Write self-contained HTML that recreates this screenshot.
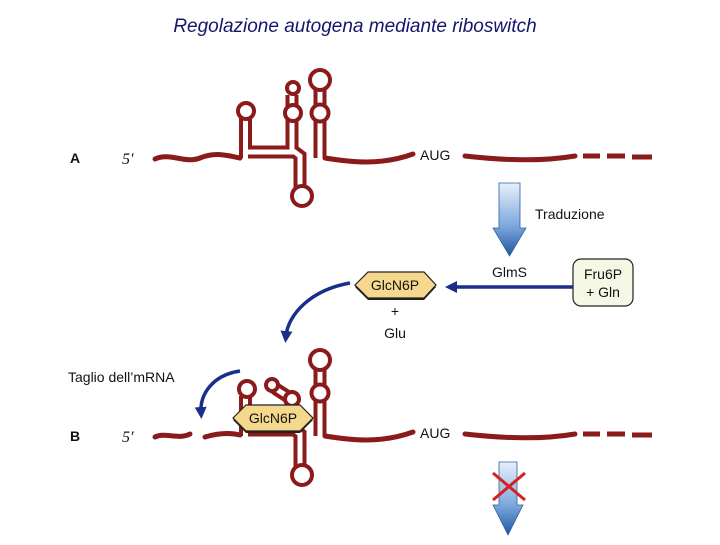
<!DOCTYPE html>
<html><head><meta charset="utf-8"><style>
body{margin:0;background:#fff;width:720px;height:540px;overflow:hidden}
text{font-family:"Liberation Sans",sans-serif}
</style></head><body>
<svg width="720" height="540" viewBox="0 0 720 540" xmlns="http://www.w3.org/2000/svg">
<defs>
<linearGradient id="bg" x1="0" y1="0" x2="0" y2="1"><stop offset="0" stop-color="#e8f0fb"/><stop offset="0.6" stop-color="#7aa6dc"/><stop offset="1" stop-color="#1f55a0"/></linearGradient>
<marker id="ah" markerWidth="12" markerHeight="12" refX="5" refY="6" orient="auto" markerUnits="userSpaceOnUse"><path d="M0,0 L12,6 L0,12 z" fill="#1a2f8a"/></marker>
</defs>
<text x="355" y="32" text-anchor="middle" font-style="italic" font-size="19" fill="#15156b" style="font-family:'Liberation Sans',sans-serif">Regolazione autogena mediante riboswitch</text>

<g fill="none" stroke="#8b1a1a" stroke-linecap="round">
<path d="M155,159 C170,152 185,164 200,158 S225,155 240,158" stroke-width="5"/>
<path d="M325,158 C350,162 380,166 413,154" stroke-width="5"/>
<path d="M465,156 C500,160 540,162 575,156" stroke-width="5"/>
<path d="M583,156 H600 M607,156 H625 M632,157 H652" stroke-width="5" stroke-linecap="butt"/>
<path d="M245.5,158 V118 M245.5,152 H292 V95 M292,150 L300,156 V190 M320,158 V88" stroke-width="13" stroke-linecap="butt"/>
<path d="M245.5,160 V118 M245.5,152 H292 V95 M292,150 L300,156 V190 M320,160 V88" stroke="#fff" stroke-width="5" stroke-linecap="butt"/>
<g stroke-width="4" fill="#fff">
<circle cx="246" cy="111" r="8"/><circle cx="293" cy="113" r="8"/><circle cx="293" cy="88" r="6"/>
<circle cx="320" cy="113" r="8.5"/><circle cx="320" cy="80" r="10"/><circle cx="302" cy="196" r="10"/>
</g>
<path d="M155,437 C165,432 178,440 190,434" stroke-width="5"/>
<path d="M205,437 C215,434 228,432 240,435" stroke-width="5"/>
<path d="M325,436 C350,440 380,444 413,432" stroke-width="5"/>
<path d="M465,434 C500,438 540,440 575,434" stroke-width="5"/>
<path d="M583,434 H600 M607,434 H625 M632,435 H652" stroke-width="5" stroke-linecap="butt"/>
<path d="M245.5,436 V396 M245.5,430 H292 V405 M292,428 L300,434 V468 M320,436 V368" stroke-width="13" stroke-linecap="butt"/>
<path d="M245.5,438 V396 M245.5,430 H292 V405 M292,428 L300,434 V468 M320,438 V368" stroke="#fff" stroke-width="5" stroke-linecap="butt"/>
<path d="M276,389 L290,398" stroke-width="13"/>
<path d="M276,389 L290,398" stroke="#fff" stroke-width="5"/>
<g stroke-width="4" fill="#fff">
<circle cx="247" cy="389" r="8"/><circle cx="272" cy="385" r="6"/><circle cx="292" cy="399" r="7"/>
<circle cx="320" cy="393" r="8.5"/><circle cx="320" cy="360" r="10"/><circle cx="302" cy="475" r="10"/>
</g>
</g>

<g font-size="14" fill="#111">
<text x="70" y="163" font-weight="bold">A</text>
<text x="70" y="441" font-weight="bold">B</text>
<text x="122" y="164" font-style="italic" style="font-family:'Liberation Serif',serif" font-size="16">5′</text>
<text x="122" y="442" font-style="italic" style="font-family:'Liberation Serif',serif" font-size="16">5′</text>
<text x="420" y="160">AUG</text>
<text x="420" y="438">AUG</text>
<text x="535" y="219">Traduzione</text>
<text x="492" y="277">GlmS</text>
<text x="395" y="316" text-anchor="middle">+</text>
<text x="395" y="338" text-anchor="middle">Glu</text>
<text x="68" y="382">Taglio dell’mRNA</text>
</g>

<path d="M499,183 H520 V228 H526 L509.5,256 L493,228 H499 Z" fill="url(#bg)" stroke="#3060a0" stroke-width="0.8"/>
<path d="M499,462 H517 V505 H523 L508,535 L493,505 H499 Z" fill="url(#bg)" stroke="#3060a0" stroke-width="0.8"/>
<path d="M493,473 L525,500 M525,473 L493,500" stroke="#d42020" stroke-width="3"/>
<path d="M573,287 H452" stroke="#1a2f8a" stroke-width="3.5" marker-end="url(#ah)"/>
<path d="M350,283 C310,290 288,315 286,336" fill="none" stroke="#1a2f8a" stroke-width="3.5" marker-end="url(#ah)"/>
<path d="M240,371 C212,375 200,395 201,412" fill="none" stroke="#1a2f8a" stroke-width="3.5" marker-end="url(#ah)"/>

<polygon points="355,287 368,274 424,274 436,287 424,300 368,300" fill="#222"/>
<polygon points="355,285 368,272 424,272 436,285 424,298 368,298" fill="#f5d88e" stroke="#222" stroke-width="1.2"/>
<text x="395" y="290" text-anchor="middle" font-size="14" fill="#111">GlcN6P</text>
<polygon points="233,420 246,407 300,407 313,420 300,433 246,433" fill="#222"/>
<polygon points="233,418 246,405 300,405 313,418 300,431 246,431" fill="#f5d88e" stroke="#222" stroke-width="1.2"/>
<text x="273" y="423" text-anchor="middle" font-size="14" fill="#111">GlcN6P</text>

<rect x="573" y="259" width="60" height="47" rx="8" fill="#f5f8e4" stroke="#222" stroke-width="1.2"/>
<text x="603" y="279" text-anchor="middle" font-size="14" fill="#111">Fru6P</text>
<text x="603" y="297" text-anchor="middle" font-size="14" fill="#111">+ Gln</text>
</svg>
</body></html>
